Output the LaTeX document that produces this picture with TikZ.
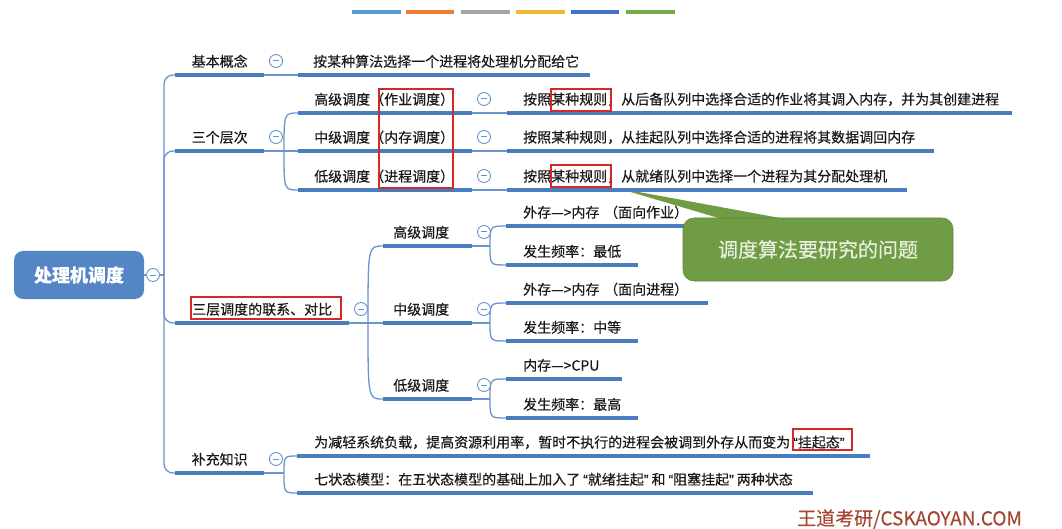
\documentclass[tikz,border=0pt]{standalone}
\usepackage{tikz}
\usepackage{fontspec}
\setmainfont{Noto Sans CJK SC}[FakeBold=0.25]
\newfontfamily\qf{Liberation Sans}[FakeBold=0.25]
\newcommand\zq[1]{\kern3pt{\qf “}#1{\qf ”}\kern3pt}
\definecolor{ulblue}{RGB}{74,125,192}
\definecolor{cnblue}{RGB}{105,148,206}
\definecolor{rootblue}{RGB}{84,133,196}
\definecolor{txtc}{RGB}{25,25,25}
\definecolor{redb}{RGB}{214,40,40}
\definecolor{calg}{RGB}{112,156,70}
\definecolor{calgd}{RGB}{95,135,60}
\definecolor{calt}{RGB}{232,240,224}
\definecolor{wmred}{RGB}{165,70,50}
\definecolor{bca}{RGB}{91,155,213}
\definecolor{bcb}{RGB}{237,125,49}
\definecolor{bcc}{RGB}{165,165,165}
\definecolor{bcd}{RGB}{240,185,50}
\definecolor{bce}{RGB}{68,114,196}
\definecolor{bcf}{RGB}{112,173,71}
\pgfdeclarelayer{bgw}
\pgfdeclarelayer{ptr}
\pgfsetlayers{bgw,ptr,main}
\begin{document}
\begin{tikzpicture}[x=1pt,y=-1pt,
  font=\fontsize{14}{16}\selectfont, text=txtc,
  lv/.style={anchor=south west, inner sep=0pt, minimum height=27pt, text width=#1pt, align=center},
  tp/.style args={#1/#2}{anchor=south west, inner sep=0pt, minimum height=27pt, text width=#1pt, align=left, execute at begin node={\hspace*{#2pt}}},
  uline/.style={draw=ulblue, line width=3.8pt},
  conn/.style={draw=cnblue, line width=1.3pt},
  btn/.style={circle, draw=cnblue, fill=white, line width=0.9pt, minimum size=13pt, inner sep=0pt,
    path picture={\draw[cnblue, line width=1pt] ([xshift=-3.2pt]path picture bounding box.center) -- ([xshift=3.2pt]path picture bounding box.center);}},
  redbox/.style={draw=redb, line width=1.8pt},
  rootbox/.style={rectangle, rounded corners=9pt, fill=rootblue, minimum width=130pt, minimum height=48pt, text=white, font=\fontsize{18}{20}\selectfont\bfseries},
  calbox/.style={rectangle, rounded corners=11pt, fill=calg, draw=calgd, line width=0.6pt, minimum width=270pt, minimum height=63pt, text=calt, font=\fontsize{20}{24}\selectfont},
  bar/.style={line width=4.5pt}
]
\begin{pgfonlayer}{bgw}
\fill[white] (0,0) rectangle (1062,529);
\end{pgfonlayer}
\useasboundingbox (0,0) rectangle (1062,529);

% top colour bars
\draw[bar, bca] (352,12) -- (401,12);
\draw[bar, bcb] (406,12) -- (454,12);
\draw[bar, bcc] (461,12) -- (510,12);
\draw[bar, bcd] (516,12) -- (565,12);
\draw[bar, bce] (571,12) -- (619,12);
\draw[bar, bcf] (626,12) -- (675,12);

% root
\node[rootbox] (root) at (79,275) {处理机调度};

% level 1
\node[lv=89] (k1) at (175,75) {基本概念};
\node[lv=89] (k2) at (175,151) {三个层次};
\node[lv=174] (k3) at (175,323) {三层调度的联系、对比};
\node[lv=89] (k4) at (175,473) {补充知识};

% level 2
\node[tp=292/15] (c1) at (298,75) {按某种算法选择一个进程将处理机分配给它};
\node[tp=174/16] (h1) at (298,113) {高级调度（作业调度）};
\node[tp=174/16] (h2) at (298,151) {中级调度（内存调度）};
\node[tp=174/16] (h3) at (298,190) {低级调度（进程调度）};
\node[tp=89/10] (m1) at (383,246) {高级调度};
\node[tp=89/10] (m2) at (383,323) {中级调度};
\node[tp=89/10] (m3) at (383,399) {低级调度};
\node[tp=573/17] (s1) at (297,456) {为减轻系统负载，提高资源利用率，暂时不执行的进程会被调到外存从而变为\zq{挂起态}};
\node[tp=516/17] (s2) at (297,493) {七状态模型：在五状态模型的基础上加入了\zq{就绪挂起}和\zq{阻塞挂起}两种状态};

% level 3
\node[tp=505/16] (g1) at (507,113) {按照某种规则，从后备队列中选择合适的作业将其调入内存，并为其创建进程};
\node[tp=427/16] (g2) at (507,151) {按照某种规则，从挂起队列中选择合适的进程将其数据调回内存};
\node[tp=400/16] (g3) at (507,190) {按照某种规则，从就绪队列中选择一个进程为其分配处理机};
\node[tp=197/17] (n1) at (506,226) {外存—>内存~（面向作业）};
\node[tp=132/17] (n2) at (506,265) {发生频率：最低};
\node[tp=202/17] (n3) at (506,303) {外存—>内存~（面向进程）};
\node[tp=132/17] (n4) at (506,341) {发生频率：中等};
\node[tp=116/17] (n5) at (506,379) {内存—>CPU};
\node[tp=132/17] (n6) at (506,418) {发生频率：最高};

% connectors
\coordinate (trk) at (164,275);
\draw[conn] (root.east) -- (trk);
\foreach \k in {k1,k2,k3,k4}
  \draw[conn, rounded corners=9pt] (trk) |- (\k.south west);
\draw[conn] (k1.south east) -- (c1.south west);

\coordinate (j2) at (284,151);
\draw[conn] (k2.south east) -- (j2);
\foreach \c in {h1,h2,h3}
  \draw[conn] (j2) .. controls (j2 |- \c.south west) .. (\c.south west);
\draw[conn] (h1.south east) -- (g1.south west);
\draw[conn] (h2.south east) -- (g2.south west);
\draw[conn] (h3.south east) -- (g3.south west);

\coordinate (j3) at (368,323);
\draw[conn] (k3.south east) -- (j3);
\foreach \c in {m1,m2,m3}
  \draw[conn] (j3) .. controls (j3 |- \c.south west) .. (\c.south west);

\coordinate (ja) at (490,246);
\coordinate (jb) at (490,323);
\coordinate (jc) at (490,399);
\draw[conn] (m1.south east) -- (ja);
\draw[conn] (m2.south east) -- (jb);
\draw[conn] (m3.south east) -- (jc);
\foreach \c in {n1,n2}
  \draw[conn] (ja) .. controls (ja |- \c.south west) .. (\c.south west);
\foreach \c in {n3,n4}
  \draw[conn] (jb) .. controls (jb |- \c.south west) .. (\c.south west);
\foreach \c in {n5,n6}
  \draw[conn] (jc) .. controls (jc |- \c.south west) .. (\c.south west);

\coordinate (j4) at (284,473);
\draw[conn] (k4.south east) -- (j4);
\foreach \c in {s1,s2}
  \draw[conn] (j4) .. controls (j4 |- \c.south west) .. (\c.south west);

% underlines
\foreach \n in {k1,k2,k3,k4,c1,h1,h2,h3,m1,m2,m3,s1,s2,g1,g2,g3,n1,n2,n3,n4,n5,n6}
  \draw[uline] (\n.south west) -- (\n.south east);

% collapse buttons
\node[btn] (b0) at (153,275) {};
\node[btn] (b1) at (276,61) {};
\node[btn] (b2) at (276,137) {};
\node[btn] (b3) at (361,309) {};
\node[btn] (b4) at (276,459) {};
\node[btn] (bh1) at (484,99) {};
\node[btn] (bh2) at (484,137) {};
\node[btn] (bh3) at (484,176) {};
\node[btn] (bm1) at (484,232) {};
\node[btn] (bm2) at (484,309) {};
\node[btn] (bm3) at (484,385) {};

% red highlight boxes
\draw[redbox] (379,89) rectangle (453,188);
\draw[redbox] (551,89) rectangle (611,111);
\draw[redbox] (551,165) rectangle (611,187);
\draw[redbox] (191,297) rectangle (341,319);
\draw[redbox] (793,429) rectangle (852,450);

% callout
\node[calbox] (cb) at (818,249.5) {调度算法要研究的问题};
\coordinate (tip) at (617,188);
\begin{pgfonlayer}{ptr}
\fill[calg] (tip) -- ([xshift=45pt,yshift=-3pt]cb.north west) -- ([xshift=112pt,yshift=-3pt]cb.north west) -- cycle;
\end{pgfonlayer}

% watermark
\node[anchor=west, inner sep=0pt, text=wmred, font=\fontsize{19}{21}\selectfont] (wm) at (797,519) {王道考研/CSKAOYAN.COM};
\end{tikzpicture}
\end{document}
